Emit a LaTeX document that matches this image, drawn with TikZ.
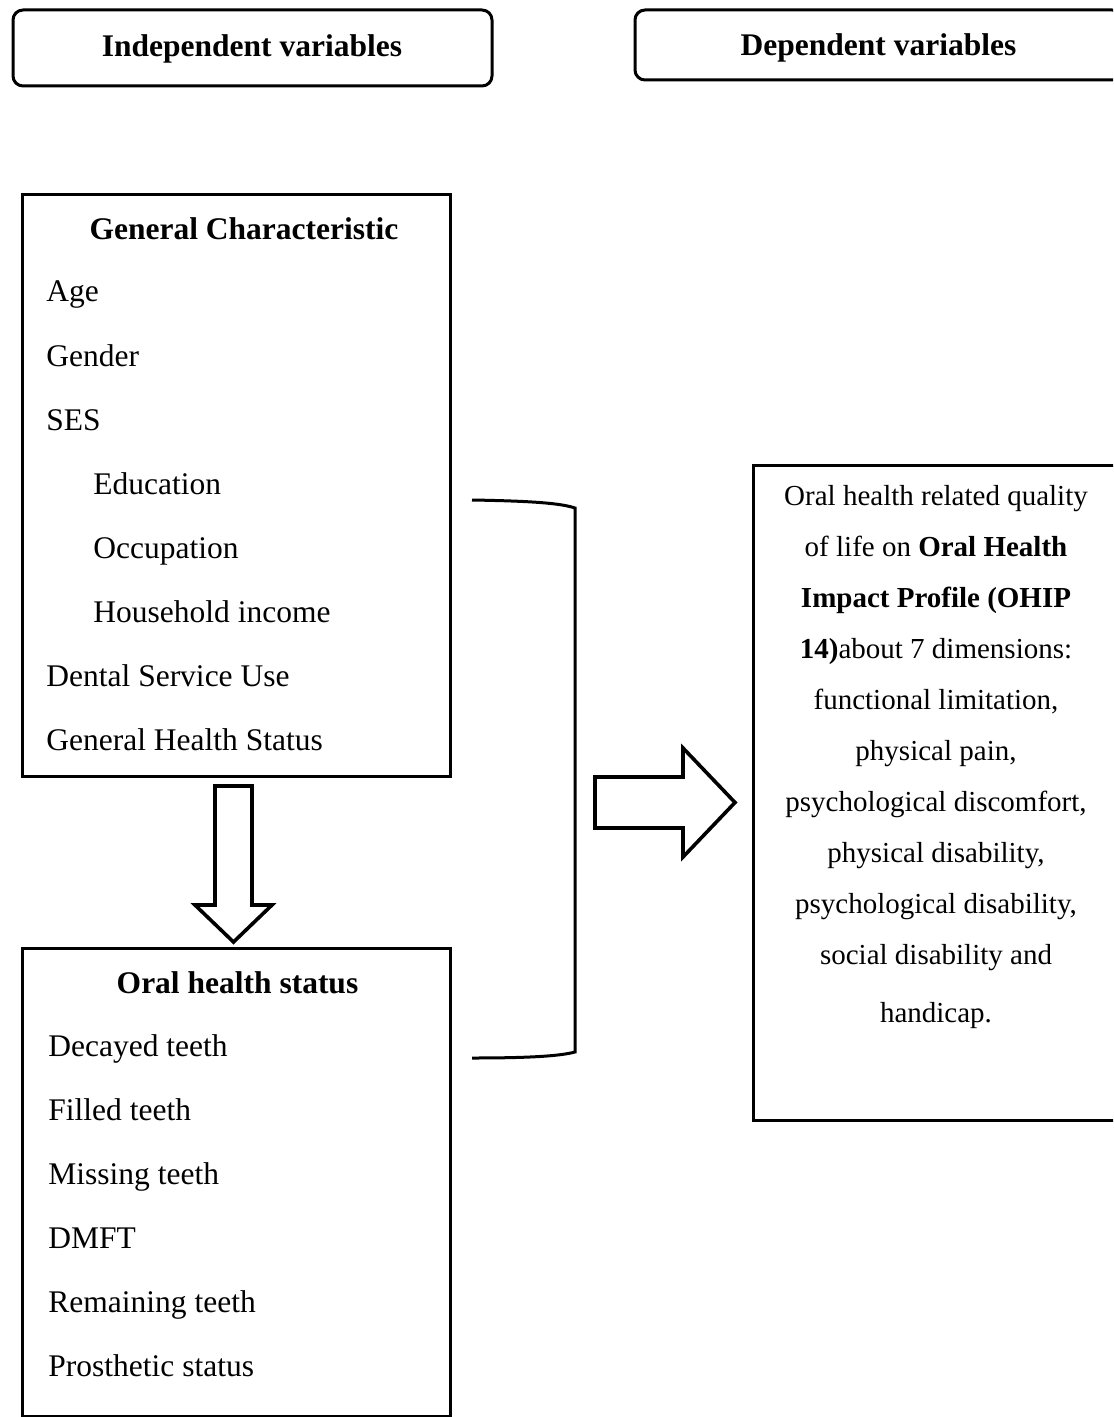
\documentclass[tikz,border=0pt]{standalone}
\usepackage{fontspec}
\setmainfont{Liberation Serif}
\tikzset{
  panel/.style={draw=black,line width=1.5pt,inner sep=0pt},
  capbox/.style={panel,rounded corners=5pt},
  head/.style={anchor=base,inner sep=0pt,font=\fontsize{15.75}{18}\selectfont\bfseries},
  item/.style={anchor=base west,inner sep=0pt,font=\fontsize{15.75}{18}\selectfont},
  hollow/.style={draw=black,line width=1.8pt,fill=white,line join=miter},
  brace/.style={draw=black,line width=1.5pt},
}
\tikzset{ohip/.style={anchor=base,inner sep=0pt,font=\fontsize{14.5}{17}\selectfont}}

\begin{document}
\begin{tikzpicture}[x=0.5pt,y=-0.5pt]
\clip (0,0) rectangle (1113,1417);
% headings
\node[capbox,minimum width=239.5pt,minimum height=38pt] (indep) at (252.5,48) {};
\node[capbox,minimum width=243.5pt,minimum height=35pt] (dep) at (878.5,45) {};
\node[head] (indeptxt) at (252,57) {Independent variables};
\node[head] (deptxt) at (878.5,56) {Dependent variables};
% left boxes
\node[panel,minimum width=214pt,minimum height=290.5pt] (genchar) at (236,485.5) {};
\node[panel,minimum width=214pt,minimum height=234pt] (oralstat) at (236,1182) {};
\node[panel,minimum width=184.5pt,minimum height=327.5pt] (ohipbox) at (937.5,792.5) {};
% general characteristic
\node[head] (gctitle) at (244,240) {General Characteristic};
\node[item] (age) at (46,302) {Age};
\node[item] (gender) at (46,366) {Gender};
\node[item] (ses) at (46,430) {SES};
\node[item] (edu) at (93,494) {Education};
\node[item] (occ) at (93,558) {Occupation};
\node[item] (income) at (93,622) {Household income};
\node[item] (dental) at (46,686) {Dental Service Use};
\node[item] (health) at (46,750) {General Health Status};
% oral health status
\node[head] (ostitle) at (237.5,993) {Oral health status};
\node[item] (decayed) at (48,1056) {Decayed teeth};
\node[item] (filled) at (48,1120) {Filled teeth};
\node[item] (missing) at (48,1184) {Missing teeth};
\node[item] (dmft) at (48,1248) {DMFT};
\node[item] (remain) at (48,1312) {Remaining teeth};
\node[item] (prosth) at (48,1376) {Prosthetic status};
% OHIP text
\node[ohip] (q1) at (936,505) {Oral health related quality};
\node[ohip] (q2) at (936,556) {of life on \textbf{Oral Health}};
\node[ohip] (q3) at (936,607) {\textbf{Impact Profile (OHIP}};
\node[ohip] (q4) at (936,658) {\textbf{14)}about 7 dimensions:};
\node[ohip] (q5) at (936,709) {functional limitation,};
\node[ohip] (q6) at (936,760) {physical pain,};
\node[ohip] (q7) at (936,811) {psychological discomfort,};
\node[ohip] (q8) at (936,862) {physical disability,};
\node[ohip] (q9) at (936,913) {psychological disability,};
\node[ohip] (q10) at (936,964) {social disability and};
\node[ohip] (q11) at (936,1022) {handicap.};
% hollow arrows
\draw[hollow] (215,786) -- (252,786) -- (252,905) -- (272,905) -- (233.5,942)
  -- (195,905) -- (215,905) -- cycle;
\draw[hollow] (595,777) -- (683,777) -- (683,748) -- (735,802.5) -- (683,857)
  -- (683,828) -- (595,828) -- cycle;
% bracket
\draw[brace] (472,500) .. controls (530,501) and (560,503) .. (575,508) -- (575,1052)
  .. controls (560,1056) and (530,1058) .. (472,1058);
\end{tikzpicture}
\end{document}
